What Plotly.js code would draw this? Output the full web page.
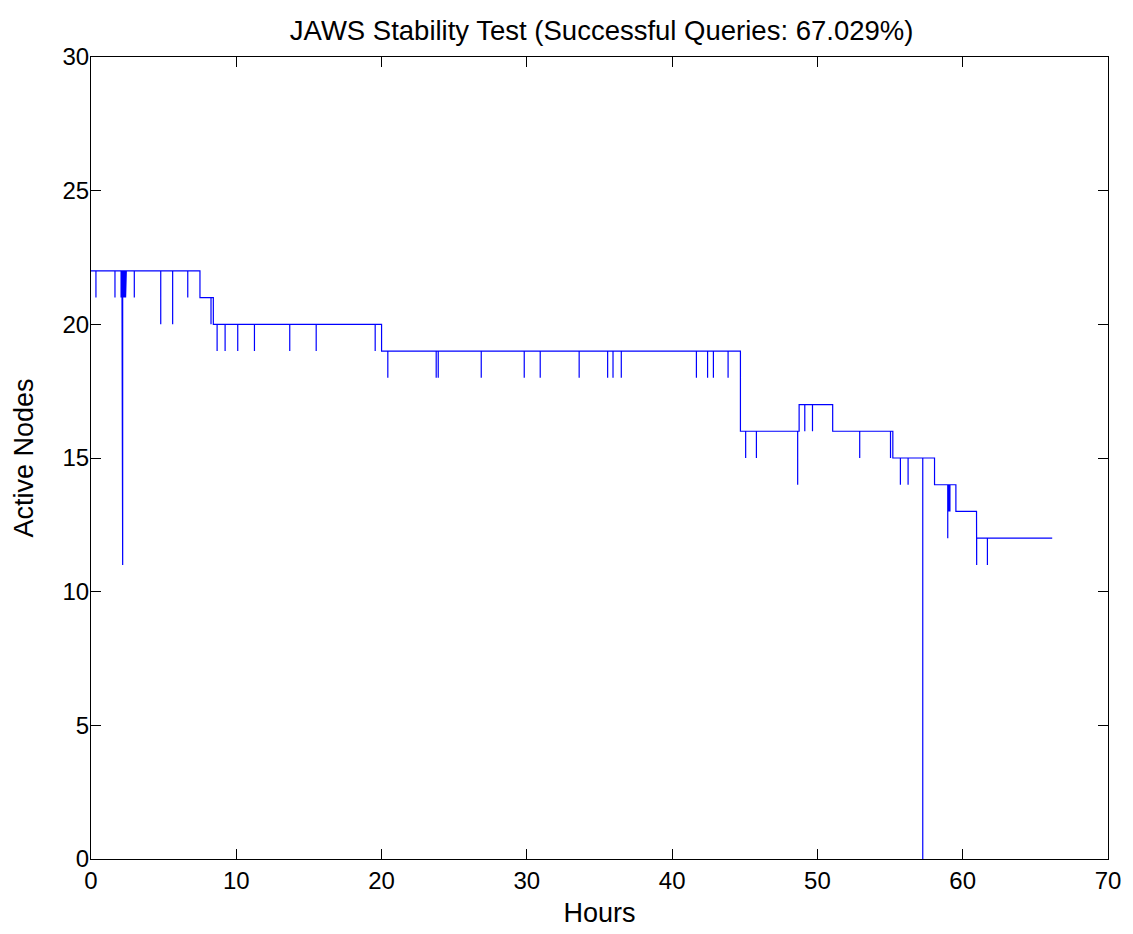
<!DOCTYPE html>
<html>
<head>
<meta charset="utf-8">
<script src="https://cdn.plot.ly/plotly-3.0.1.min.js"></script>
<style>html,body{margin:0;padding:0;background:#fff;}#chart{width:1133px;height:934px;}</style>
</head>
<body>
<div id="chart"></div>
<script>
// Step levels (hour at which level starts, number of active nodes)
const stepHours = [0, 7.5, 8.42, 20.0, 44.7, 48.74, 51.05, 55.19, 58.06, 59.53, 60.95];
const stepNodes = [22, 21, 20, 19, 16, 17, 16, 15, 14, 13, 12];
const endHour = 66.16;

// Short drops (single samples) below the current level
const dipHours = [0.34, 1.65, 2.07, 2.13, 2.18, 2.25, 2.32, 2.38, 2.43, 2.98, 4.8, 5.62, 6.66, 8.26,
  8.68, 9.23, 10.1, 11.25, 13.68, 15.5, 19.56, 20.43, 23.76, 23.9, 26.86, 29.82, 30.92, 33.6,
  35.56, 35.93, 36.5, 41.67, 42.44, 42.84, 43.85, 45.06, 45.8, 48.64, 49.13, 49.66, 52.91,
  55.03, 55.71, 56.24, 57.25, 58.97, 59.05, 59.12, 60.96, 61.7];
const dipNodes = [21, 21, 21, 21, 11, 21, 21, 21, 21, 21, 20, 20, 21, 20,
  19, 19, 19, 19, 19, 19, 19, 18, 18, 18, 18, 18, 18, 18,
  18, 18, 18, 18, 18, 18, 18, 15, 15, 14, 16, 16, 15,
  15, 14, 14, 0, 12, 13, 13, 11, 11];

const xTicks = [0, 10, 20, 30, 40, 50, 60, 70];
const yTicks = [0, 5, 10, 15, 20, 25, 30];

function levelAt(t) {
  let v = stepNodes[0];
  for (let i = 0; i < stepHours.length; i++) if (stepHours[i] <= t) v = stepNodes[i];
  return v;
}

// Build the event list
const events = [];
stepHours.forEach((h, i) => events.push({t: h, kind: 's', i: i}));
dipHours.forEach((h, i) => events.push({t: h, kind: 'd', i: i}));
events.sort((a, b) => a.t - b.t || (a.kind === 's' ? -1 : 1));

const xs = [], ys = [];
events.forEach(e => {
  if (e.kind === 's') {
    if (e.i > 0) { xs.push(e.t); ys.push(stepNodes[e.i - 1]); }
    xs.push(e.t); ys.push(stepNodes[e.i]);
  } else {
    const base = levelAt(e.t);
    xs.push(e.t, e.t, e.t); ys.push(base, dipNodes[e.i], base);
  }
});
xs.push(endHour); ys.push(levelAt(endHour));

const font = {family: 'Liberation Sans, Arial, sans-serif', color: '#000'};

const trace = {
  x: xs, y: ys, type: 'scatter', mode: 'lines',
  line: {color: '#0000ff', width: 1.2, shape: 'linear'},
  hoverinfo: 'skip'
};

const axisCommon = {
  showgrid: false, zeroline: false, showline: true, linecolor: '#000', linewidth: 1,
  mirror: 'ticks', ticks: 'inside', ticklen: 10, tickwidth: 1, tickcolor: '#000',
  tickfont: Object.assign({size: 24}, font)
};

const layout = {
  width: 1133, height: 934,
  margin: {l: 91, r: 25, t: 57, b: 75},
  paper_bgcolor: '#fff', plot_bgcolor: '#fff',
  showlegend: false,
  title: {text: 'JAWS Stability Test (Successful Queries: 67.029%)', font: Object.assign({size: 27.5}, font),
          x: 0.531, xanchor: 'center', y: 0.968, yanchor: 'middle'},
  xaxis: Object.assign({}, axisCommon, {
    range: [0, 70], tickvals: xTicks,
    title: {text: 'Hours', font: Object.assign({size: 27}, font), standoff: 10}
  }),
  yaxis: Object.assign({}, axisCommon, {
    range: [0, 30], tickvals: yTicks, ticklabelstandoff: -4,
    title: {text: 'Active Nodes', font: Object.assign({size: 27}, font), standoff: 21}
  })
};

Plotly.newPlot('chart', [trace], layout, {displayModeBar: false, staticPlot: true});
</script>
</body>
</html>
